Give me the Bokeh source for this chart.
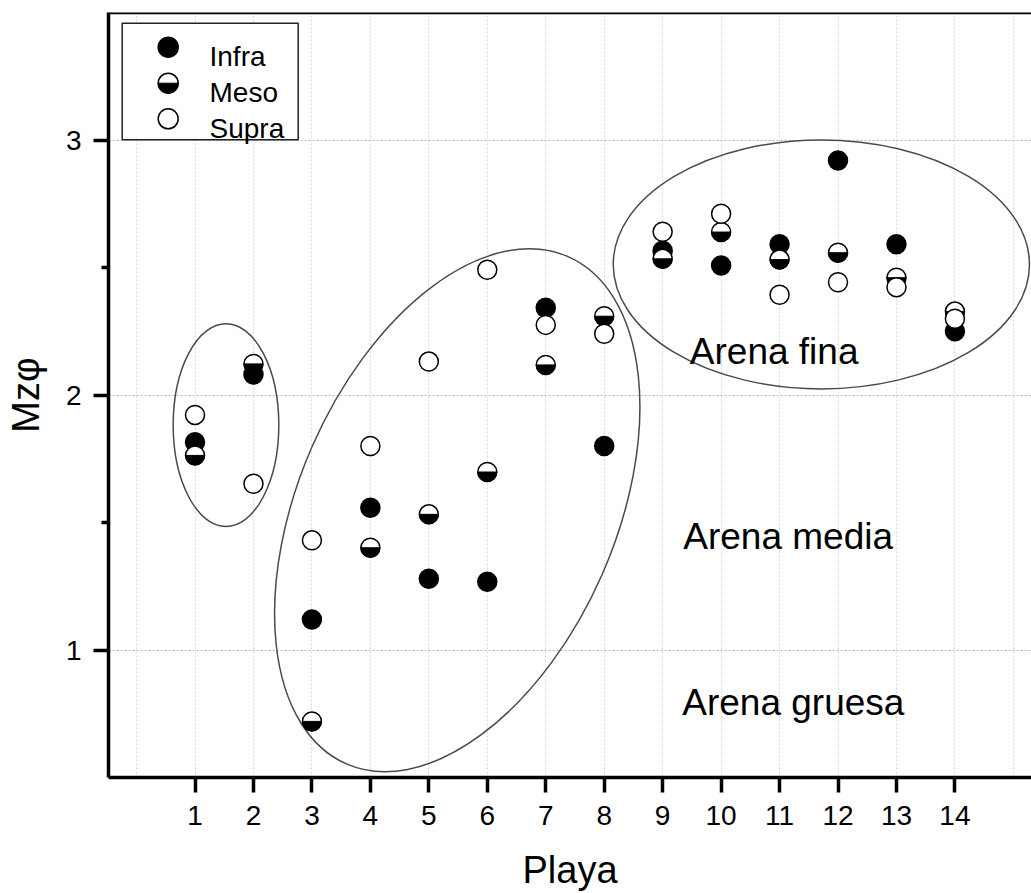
import math
from bokeh.plotting import figure
from bokeh.models import FixedTicker, Range1d, Span, ColumnDataSource
from bokeh.core.properties import value
from bokeh.embed import file_html
from bokeh.resources import INLINE

# ---------------- data ----------------
playa = list(range(1, 15))
tick_labels = [str(i) for i in playa]
infra = [1.815, 2.080, 1.120, 1.558, 1.279, 1.268, 2.342, 1.800, 2.566, 2.508, 2.591, 2.920, 2.591, 2.250]
meso = [1.763, 2.122, 0.720, 1.401, 1.532, 1.698, 2.118, 2.309, 2.534, 2.639, 2.531, 2.558, 2.460, 2.327]
supra = [1.922, 1.652, 1.430, 1.800, 2.131, 2.491, 2.275, 2.240, 2.640, 2.711, 2.393, 2.442, 2.423, 2.299]
series_names = ["Infra", "Meso", "Supra"]

# grouping ellipses (data units)
group_cx = [1.530, 5.486, 11.715]
group_cy = [1.882, 1.548, 2.512]
group_w = [1.807, 9.47, 7.12]
group_h = [0.795, 1.243, 0.976]
group_angle = [0.0, 66.4, 0.0]

zone_labels = ["Arena fina", "Arena media", "Arena gruesa"]
zone_x = [9.465, 9.352, 9.335]
zone_y = [2.171, 1.446, 0.795]

FONT = "Liberation Sans"

# ---------------- figure ----------------
W, H = 1031, 893
p = figure(width=W, height=H, output_backend="svg", toolbar_location=None,
           x_range=Range1d(-0.48, 15.31), y_range=Range1d(0.5, 3.5),
           min_border_left=108, min_border_right=0, min_border_top=12,
           min_border_bottom=116, x_axis_label="Playa", y_axis_label="Mzφ")
p.outline_line_color = None
p.background_fill_color = "white"
p.border_fill_color = "white"

# pixel-space ranges for the hand-drawn legend
p.extra_x_ranges = {"px": Range1d(108, 1031)}
p.extra_y_ranges = {"py": Range1d(777, 12)}

# grids
p.xgrid.ticker = FixedTicker(ticks=list(range(0, 16)))
p.xgrid.grid_line_color = "#d6d6d6"
p.xgrid.grid_line_dash = "2 2"
p.xgrid.grid_line_width = 1
p.ygrid.ticker = FixedTicker(ticks=[1, 2, 3])
p.ygrid.grid_line_color = "#b5b5b5"
p.ygrid.grid_line_dash = "2 2"
p.ygrid.grid_line_width = 1

# axes
xa = p.xaxis[0]
xa.ticker = FixedTicker(ticks=playa)
xa.major_label_overrides = {v: s for v, s in zip(playa, tick_labels)}
xa.axis_line_width = 3.5
xa.axis_line_color = "black"
xa.major_tick_line_width = 3.5
xa.major_tick_line_color = "black"
xa.major_tick_out = 15
xa.major_tick_in = 0
xa.minor_tick_line_color = None
xa.major_label_text_font = FONT
xa.major_label_text_font_size = "28px"
xa.major_label_text_color = "black"
xa.major_label_standoff = 13
xa.axis_label_text_font = FONT
xa.axis_label_text_font_size = "38px"
xa.axis_label_text_font_style = "normal"
xa.axis_label_text_color = "black"
xa.axis_label_standoff = 21

ya = p.yaxis[0]
ya.ticker = FixedTicker(ticks=[1, 2, 3], minor_ticks=[1.5, 2.5])
ya.axis_line_width = 3.5
ya.axis_line_color = "black"
ya.major_tick_line_width = 3.5
ya.major_tick_line_color = "black"
ya.major_tick_out = 15
ya.major_tick_in = 0
ya.minor_tick_line_width = 3.5
ya.minor_tick_line_color = "black"
ya.minor_tick_out = 7
ya.minor_tick_in = 0
ya.major_label_text_font = FONT
ya.major_label_text_font_size = "28px"
ya.major_label_text_color = "black"
ya.major_label_standoff = 12
ya.axis_label_text_font = FONT
ya.axis_label_text_font_size = "38px"
ya.axis_label_text_font_style = "normal"
ya.axis_label_text_color = "black"
ya.axis_label_standoff = 16

# top frame line
p.add_layout(Span(location=3.5, dimension="width", line_color="black", line_width=3.5))

# grouping ellipses
p.ellipse(x=group_cx, y=group_cy, width=group_w, height=group_h,
          angle=group_angle, angle_units="deg",
          fill_color=None, line_color="#4a4a4a", line_width=1.5)

# zone labels
p.text(x=zone_x, y=zone_y, text=zone_labels, text_font=value(FONT),
       text_font_size="37px", text_color="black", text_baseline="alphabetic",
       text_align="left")

# data points
src = ColumnDataSource(dict(playa=playa, infra=infra, meso=meso, supra=supra))
R = 9.5
p.scatter("playa", "infra", source=src, size=2 * R, marker="circle",
          fill_color="black", line_color="black", line_width=1.5)
p.scatter("playa", "meso", source=src, size=2 * R, marker="circle",
          fill_color="white", line_color="black", line_width=1.5)
p.wedge("playa", "meso", source=src, radius=R, radius_units="screen",
        start_angle=math.pi, end_angle=2 * math.pi,
        fill_color="black", line_color="black", line_width=1)
p.scatter("playa", "supra", source=src, size=2 * R, marker="circle",
          fill_color="white", line_color="black", line_width=1.5)

# legend (drawn in pixel space)
p.quad(left=[121.7], right=[297.7], top=[22.7], bottom=[139.3],
       fill_color="white", line_color="#222222", line_width=1.5,
       x_range_name="px", y_range_name="py")
leg_x = [167.7, 167.7, 167.7]
leg_y = [46.7, 82.7, 118.3]
p.scatter([leg_x[0]], [leg_y[0]], size=2 * R + 1, fill_color="black", line_color="black",
          line_width=1.5, x_range_name="px", y_range_name="py")
p.scatter([leg_x[1]], [leg_y[1]], size=2 * R + 1, fill_color="white", line_color="black",
          line_width=1.5, x_range_name="px", y_range_name="py")
p.wedge([leg_x[1]], [leg_y[1]], radius=R + 0.5, radius_units="screen",
        start_angle=math.pi, end_angle=2 * math.pi, fill_color="black",
        line_color="black", line_width=1, x_range_name="px", y_range_name="py")
p.scatter([leg_x[2]], [leg_y[2]], size=2 * R + 1, fill_color="white", line_color="black",
          line_width=1.5, x_range_name="px", y_range_name="py")
p.text(x=[209, 209, 209], y=[55.5, 91.5, 127.5], text=series_names,
       text_font=value(FONT), text_font_size="28px", text_color="black",
       text_baseline="alphabetic", x_range_name="px", y_range_name="py")

open("out.html", "w").write(file_html(p, INLINE))
